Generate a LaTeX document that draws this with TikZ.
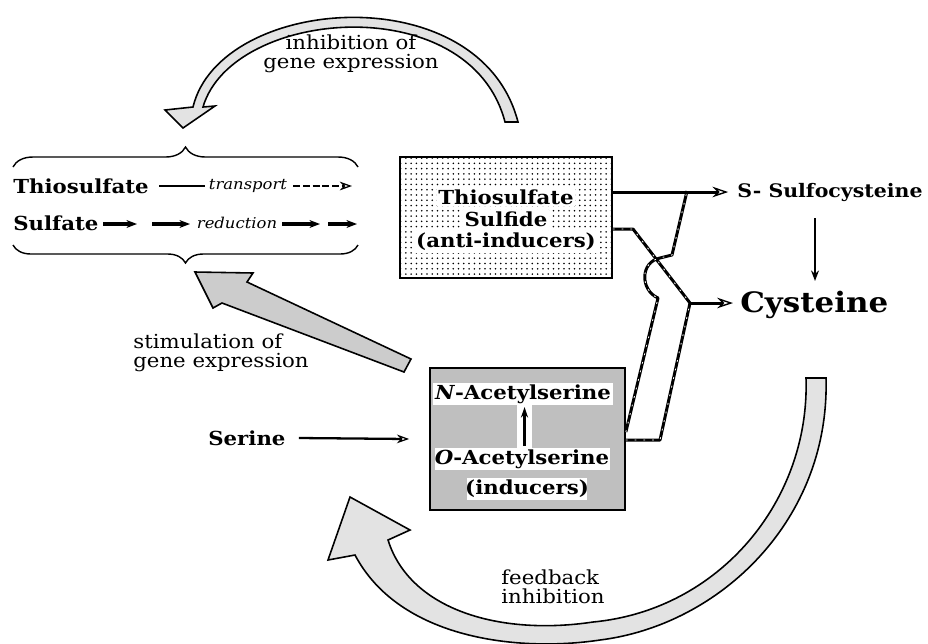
\documentclass[tikz,border=0pt]{standalone}
\usepackage{fontspec}
\setmainfont[FakeStretch=1.1]{DejaVu Serif}
\usetikzlibrary{arrows.meta,decorations.pathreplacing,patterns}
\begin{document}
\begin{tikzpicture}[x=0.02cm,y=-0.02cm,
  bold/.style={font=\fontsize{11}{13}\selectfont\bfseries, inner sep=0pt},
  note/.style={font=\fontsize{11}{10.8}\selectfont, inner sep=0pt},
  tiny/.style={font=\fontsize{8.5}{10}\selectfont\itshape, inner sep=0pt},
  bigarrow/.style={draw=black, line width=0.9pt, line join=miter, fill=gray!22},
  netline/.style={line width=1.7pt, line join=round, postaction={draw=white, line width=0.45pt, dash pattern=on 1pt off 4pt}},
  opentip/.style={-{Stealth[length=9pt,width=6pt,fill=white,line width=0.8pt]}},
  smalltip/.style={-{Stealth[length=6pt,width=4.5pt]}},
  bracest/.style={decorate, line width=0.8pt},
]
\useasboundingbox (0,0) rectangle (928,643);

% ---------- top-left group ----------
\node[bold, anchor=west] (thio) at (13,186) {Thiosulfate};
\node[bold, anchor=west] (sulf) at (13,223) {Sulfate};
\node[tiny] (trans) at (248,186) {transport};
\node[tiny] (red) at (237,223) {reduction};
\draw[line width=1.6pt] ([xshift=0.2cm]thio.east) -- ([xshift=-0.08cm]trans.west);
\draw[line width=1.3pt, dash pattern=on 4pt off 1.5pt, -{Stealth[length=7pt,width=5pt,fill=white,line width=0.7pt]}] ([xshift=0.12cm]trans.east) -- (352,186);
\draw[line width=1.8pt, smalltip] (103,224) -- (137,224);
\draw[line width=1.8pt, smalltip] (152,224) -- (190,224);
\draw[line width=1.8pt, smalltip] (282,224) -- (320,224);
\draw[line width=1.8pt, smalltip] (328,224) -- (357,224);
\draw[bracest, decoration={brace, amplitude=0.4cm}] (13,167) -- (358,167);
\draw[bracest, decoration={brace, amplitude=0.36cm}] (358,245) -- (13,245);

% ---------- top arc: inhibition of gene expression ----------
\draw[bigarrow] (518,122) .. controls (480,-25) and (220,-5) .. (193,107)
   -- (165,110) -- (183,128) -- (215,106) -- (203,107)
   .. controls (232,8) and (470,-12) .. (505,122) -- cycle;
\node[note, align=center] (inhib) at (351,54) {inhibition of\\gene expression};

% ---------- stimulation arrow ----------
\draw[bigarrow, fill=gray!40] (411,359) -- (247,282) -- (253,273) -- (195,272)
   -- (213,308) -- (222,303) -- (404,372) -- cycle;
\node[note, align=left, anchor=west] (stim) at (133,353) {stimulation of\\gene expression};

% ---------- thiosulfate box ----------
\node[draw, line width=1pt, pattern=dots, pattern color=black,
      minimum width=4.24cm, minimum height=2.42cm] (tbox) at (506,217.5) {};
\node[bold, fill=white, inner sep=1pt] (t1) at (506,197) {Thiosulfate};
\node[bold, fill=white, inner sep=1pt] (t2) at (506,219) {Sulfide};
\node[bold, fill=white, inner sep=1pt] (t3) at (506,242) {(anti-inducers)};

% ---------- inducer box ----------
\node[draw, line width=1pt, fill=gray!50, minimum width=3.9cm, minimum height=2.84cm] (nbox) at (527.5,439) {};
\fill[white] (433,383) rectangle (613,405);
\fill[white] (517,405) rectangle (532,448);
\fill[white] (435,448) rectangle (610,470);
\fill[white] (467,478) rectangle (587,500);
\node[bold] (nas) at (523,394) {\textit{N}-Acetylserine};
\node[bold] (oas) at (522,459) {\textit{O}-Acetylserine};
\node[bold] (ind) at (527,489) {(inducers)};
\draw[line width=1.4pt, -{Stealth[length=6pt,width=4pt]}] (524.5,446) -- (524.5,407);

% ---------- serine ----------
\node[bold, anchor=west] (ser) at (208,438) {Serine};
\draw[line width=1.3pt, -{Stealth[length=7pt,width=5pt,fill=white,line width=0.7pt]}] ([xshift=0.26cm]ser.east) -- ([xshift=-0.4cm]nbox.west);

% ---------- products ----------
\node[font=\fontsize{10.6}{13}\selectfont\bfseries, inner sep=0pt, anchor=west] (ssc) at (737,192) {S- Sulfocysteine};
\node[font=\fontsize{16}{18}\selectfont\bfseries, inner sep=0pt, anchor=west] (cys) at (740,305) {Cysteine};
\draw[line width=1.5pt, smalltip] (815,218) -- (815,281);

% ---------- reaction network ----------
\coordinate (j1) at (687,191);
\coordinate (j2) at (690,303);
\coordinate (s1) at (633,229);
\coordinate (h0) at (658,298);
\coordinate (h1) at (660,258);
\coordinate (h2) at (672,255);
\coordinate (k1) at (660,440);
\draw[line width=1.7pt, opentip, shorten >=5pt] (tbox.east |- ssc.west) -- (ssc.west);
\draw[line width=1.7pt, opentip, shorten >=4pt] (j2) -- (j2 -| cys.west);
\draw[netline] (tbox.east |- s1) -- (s1) -- (j2);
\draw[netline] ([yshift=0.14cm]nbox.east) -- (h0) .. controls (640,290) and (640,262) .. (h1) -- (h2) -- (j1);
\draw[netline] ([yshift=-0.02cm]nbox.east) -- (k1) -- (j2);

% ---------- feedback arc ----------
\draw[bigarrow] (826,378) .. controls (830,520) and (720,625) .. (600,640)
   .. controls (520,652) and (400,640) .. (355,555)
   -- (328,560) -- (350,497) -- (410,530) -- (388,540)
   .. controls (410,610) and (500,636) .. (593,622)
   .. controls (720,610) and (810,500) .. (806,378) -- cycle;
\node[note, align=left, anchor=west] (fb) at (501,587) {feedback\\inhibition};
\end{tikzpicture}
\end{document}
